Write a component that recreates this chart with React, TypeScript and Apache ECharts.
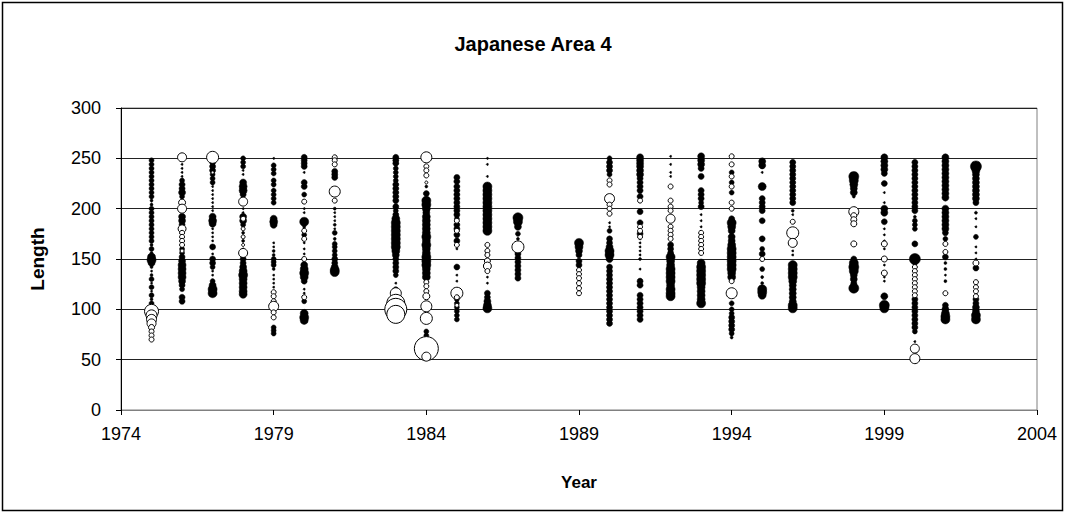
import React, { useEffect, useRef } from "react";
import * as echarts from "echarts";

// Each entry: [length, bubble size in px]
const f1975 = [[248,5],[244,5],[240,5],[236,5],[232,5],[228,5],[224,5],[220,5],[216,5],[212,5],[208,3],[204,3],[200,5],[196,5],[192,5],[188,5],[184,5],[180,5],[176,5],[172,5],[168,5],[164,3],[160,5],[156,3],[152,8],[149,9],[146,7],[142,3],[138,2],[134,3],[130,5],[126,2],[122,5],[118,2],[114,5],[110,3],[106,5],[102,3]];
const o1975 = [[98,14],[94,11],[90,10],[86,9],[82,6],[78,5],[74,5],[70,5]];
const f1976 = [[244,2],[240,2],[236,2],[232,2],[228,5],[224,6],[220,6],[216,7],[212,5],[192,7],[188,7],[184,6],[170,3],[160,5],[156,5],[152,6],[148,7],[144,8],[140,8],[136,8],[132,8],[128,7],[124,6],[120,5],[112,6],[108,6]];
const o1976 = [[251,9],[206,7],[200,9],[180,8],[176,5],[172,5],[168,5],[164,5],[158,4]];
const f1977 = [[246,6],[242,6],[238,6],[234,5],[230,5],[226,5],[222,2],[218,2],[214,2],[210,2],[206,2],[202,2],[198,2],[192,7],[188,8],[185,7],[180,2],[176,2],[172,2],[168,2],[162,6],[155,2],[150,6],[146,6],[142,5],[138,2],[134,2],[128,5],[124,7],[120,9],[116,9]];
const o1977 = [[251,12],[236,3]];
const f1978 = [[250,5],[246,5],[242,5],[238,2],[234,2],[226,7],[222,8],[218,8],[214,6],[200,2],[196,2],[192,7],[188,7],[184,5],[176,3],[168,3],[160,2],[150,6],[146,6],[142,7],[138,8],[134,9],[130,8],[126,8],[122,8],[118,8],[115,8]];
const o1978 = [[207,9],[190,5],[180,4],[172,4],[164,3],[156,9]];
const f1979 = [[250,2],[243,5],[239,5],[235,5],[228,5],[224,5],[218,5],[214,5],[210,5],[206,5],[190,7],[187,8],[184,7],[166,2],[162,2],[158,3],[154,3],[150,5],[147,5],[144,5],[140,3],[134,2],[130,2],[126,2],[122,2],[82,5],[79,5],[76,5]];
const o1979 = [[117,5],[113,5],[108,5],[103,10],[97,5],[92,5]];
const f1980 = [[251,6],[248,6],[245,6],[242,6],[236,2],[226,6],[222,6],[214,5],[200,2],[196,2],[187,9],[182,3],[174,5],[166,2],[160,2],[155,2],[144,7],[140,8],[136,9],[132,8],[128,6],[120,2],[116,2],[108,5],[96,8],[92,9],[89,8]];
const o1980 = [[207,5],[178,5],[170,5],[150,5],[112,5]];
const f1981 = [[237,6],[234,6],[231,6],[200,3],[196,2],[192,2],[188,2],[184,3],[180,2],[176,5],[170,3],[165,5],[162,5],[158,5],[154,5],[150,6],[146,6],[142,7],[139,9],[137,9]];
const o1981 = [[251,5],[248,5],[244,5],[217,11],[208,5]];
const f1983 = [[251,6],[248,6],[245,6],[240,5],[236,5],[232,5],[228,5],[224,6],[220,6],[216,6],[212,6],[208,6],[202,6],[198,5],[194,6],[190,8],[186,9],[182,9],[178,9],[174,9],[170,9],[166,9],[162,9],[158,8],[154,7],[150,6],[146,6],[142,6],[138,6],[134,5],[126,2],[120,5]];
const o1983 = [[116,11],[106,18],[100,22],[95,18]];
const f1984 = [[222,3],[215,6],[208,9],[204,9],[200,8],[196,7],[192,8],[188,8],[184,8],[180,8],[176,8],[172,9],[168,8],[164,9],[160,8],[156,8],[152,9],[148,9],[144,9],[140,8],[136,8],[132,8],[78,5],[74,5]];
const o1984 = [[251,11],[242,5],[238,5],[233,5],[226,3],[127,5],[123,5],[118,5],[113,7],[103,11],[91,12],[68,8],[61,24],[53,9]];
const f1985 = [[231,6],[227,6],[222,6],[218,6],[214,6],[210,6],[206,6],[202,6],[198,6],[194,6],[190,5],[184,6],[180,6],[174,6],[168,6],[160,2],[142,6],[134,2],[128,2],[110,5],[106,5],[102,5],[98,5],[94,5],[90,5]];
const o1985 = [[188,5],[178,5],[164,5],[116,12],[112,5],[104,4]];
const f1986 = [[250,2],[244,2],[232,2],[222,9],[218,9],[214,9],[210,9],[206,9],[202,9],[198,9],[194,9],[190,9],[186,9],[182,9],[178,9],[132,2],[126,2],[116,6],[112,6],[108,7],[104,8],[101,9]];
const o1986 = [[164,5],[158,5],[154,5],[148,6],[143,8],[138,5]];
const f1987 = [[191,10],[187,9],[182,7],[175,5],[170,3],[155,6],[151,6],[147,6],[143,6],[139,6],[135,6],[131,6]];
const o1987 = [[162,12]];
const f1989 = [[166,9],[162,8],[158,7],[154,6],[148,6],[144,6]];
const o1989 = [[139,5],[135,5],[131,5],[126,5],[121,5],[116,5]];
const f1990 = [[250,5],[246,6],[242,6],[238,6],[234,5],[186,2],[182,2],[178,5],[170,6],[166,6],[162,7],[158,9],[154,9],[150,7],[142,6],[138,6],[134,6],[130,6],[126,6],[122,6],[118,6],[114,6],[110,6],[106,6],[102,6],[98,6],[94,6],[90,6],[86,6]];
const o1990 = [[228,5],[224,5],[210,10],[204,5],[200,5],[195,5]];
const f1991 = [[251,7],[248,7],[245,7],[242,7],[238,7],[234,7],[230,6],[226,6],[222,6],[218,6],[212,6],[197,6],[186,6],[175,6],[170,2],[166,2],[162,2],[158,2],[154,2],[150,3],[140,2],[128,6],[124,6],[114,6],[110,6],[106,6],[102,6],[98,6],[94,6],[90,6]];
const o1991 = [[208,5],[182,5],[178,5],[172,5]];
const f1992 = [[252,2],[244,2],[236,2],[232,2],[164,6],[160,6],[156,6],[152,9],[148,8],[144,8],[140,9],[136,9],[132,9],[128,9],[124,8],[120,9],[116,9],[113,9]];
const o1992 = [[222,5],[208,5],[202,5],[198,5],[190,9],[182,5],[178,5],[174,5],[170,5]];
const f1993 = [[252,7],[248,7],[244,7],[240,6],[232,6],[218,6],[214,6],[210,6],[206,5],[202,6],[194,2],[188,2],[182,2],[146,8],[142,9],[138,9],[134,9],[130,9],[126,9],[122,8],[118,8],[114,8],[110,8],[106,9]];
const o1993 = [[176,5],[172,5],[168,5],[164,5],[160,5],[156,5]];
const f1994 = [[236,5],[226,5],[216,5],[190,6],[186,9],[182,8],[178,7],[172,7],[168,7],[164,8],[160,9],[156,9],[152,9],[148,9],[144,9],[140,9],[136,8],[132,8],[106,5],[100,5],[96,5],[92,6],[88,6],[84,6],[80,6],[76,5],[72,3]];
const o1994 = [[252,5],[244,5],[232,5],[222,5],[206,5],[200,5],[128,5],[116,11]];
const f1995 = [[247,7],[243,7],[236,2],[222,8],[210,6],[206,6],[202,6],[198,6],[188,6],[170,6],[160,5],[155,6],[140,5],[132,3],[126,3],[120,9],[117,9],[114,8]];
const o1995 = [[150,5]];
const f1996 = [[246,6],[242,6],[238,6],[234,6],[230,6],[226,6],[222,6],[218,6],[214,6],[210,6],[206,6],[198,3],[194,2],[158,2],[154,2],[144,9],[140,9],[136,9],[132,9],[128,8],[124,7],[120,7],[116,7],[112,7],[108,7],[104,9],[101,9]];
const o1996 = [[187,5],[176,12],[166,9]];
const f1998 = [[232,10],[228,9],[224,8],[220,7],[216,7],[212,3],[150,6],[146,9],[142,10],[138,9],[134,7],[130,7],[126,6],[121,10]];
const o1998 = [[197,10],[193,6],[189,6],[185,6],[165,6]];
const f1999 = [[251,7],[247,7],[243,7],[239,7],[235,6],[225,6],[216,2],[206,2],[200,7],[196,7],[187,6],[180,2],[174,2],[168,2],[160,2],[144,2],[132,2],[128,2],[113,7],[104,10],[101,9]];
const o1999 = [[165,6],[150,6],[136,6]];
const f2000 = [[246,6],[242,6],[238,6],[234,6],[230,6],[226,6],[222,6],[218,6],[214,6],[210,6],[206,6],[202,6],[198,6],[192,3],[188,5],[184,5],[180,5],[165,6],[150,11],[146,5],[110,6],[106,6],[102,6],[98,6],[94,6],[90,6],[86,6],[82,6],[78,5],[68,2]];
const o2000 = [[142,5],[138,5],[134,5],[130,5],[126,5],[122,5],[118,5],[114,5],[61,9],[51,10]];
const f2001 = [[251,7],[247,7],[243,7],[239,7],[235,7],[231,7],[227,7],[223,7],[219,7],[215,7],[211,7],[200,7],[196,7],[192,7],[188,7],[184,7],[180,7],[176,6],[170,5],[152,6],[146,3],[140,3],[134,2],[128,3],[104,6],[100,7],[96,8],[93,9],[90,9]];
const o2001 = [[165,5],[157,5],[116,5]];
const f2002 = [[242,11],[238,8],[234,7],[230,7],[226,7],[222,7],[218,7],[214,7],[210,7],[206,6],[196,3],[190,2],[182,2],[172,5],[162,2],[156,2],[150,2],[141,6],[110,6],[106,6],[102,7],[98,7],[94,9],[90,9]];
const o2002 = [[146,6],[127,5],[122,5],[118,5],[113,5]];

const years = [1975,1976,1977,1978,1979,1980,1981,1983,1984,1985,1986,1987,1989,1990,1991,1992,1993,1994,1995,1996,1998,1999,2000,2001,2002];
const filledByYear = [f1975,f1976,f1977,f1978,f1979,f1980,f1981,f1983,f1984,f1985,f1986,f1987,f1989,f1990,f1991,f1992,f1993,f1994,f1995,f1996,f1998,f1999,f2000,f2001,f2002];
const openByYear = [o1975,o1976,o1977,o1978,o1979,o1980,o1981,o1983,o1984,o1985,o1986,o1987,o1989,o1990,o1991,o1992,o1993,o1994,o1995,o1996,o1998,o1999,o2000,o2001,o2002];

const xTicks = { min: 1974, max: 2004, interval: 5 };
const yTicks = { min: 0, max: 300, interval: 50 };

const FONT = "'Liberation Sans', Arial, sans-serif";

export default function App() {
  const ref = useRef<HTMLDivElement>(null);
  useEffect(() => {
    if (!ref.current) return;
    const chart = echarts.init(ref.current, null, { renderer: "svg" });
    const filled: number[][] = [];
    const open: number[][] = [];
    years.forEach((yr, i) => {
      filledByYear[i].forEach(([len, s]) => filled.push([yr, len, s]));
      openByYear[i].forEach(([len, s]) => open.push([yr, len, s]));
    });
    chart.setOption({
      animation: false,
      backgroundColor: "#fff",
      title: {
        text: "Japanese Area 4",
        left: "center",
        top: 29,
        textStyle: { fontFamily: FONT, fontSize: 20, fontWeight: "bold", color: "#000" },
      },
      graphic: [
        {
          type: "rect",
          shape: { x: 2.5, y: 2.5, width: 1060, height: 508 },
          style: { fill: "none", stroke: "#000", lineWidth: 1.5 },
          silent: true,
        },
      ],
      grid: {
        left: 121,
        top: 108,
        width: 916,
        height: 302,
        show: true,
        borderColor: "#808080",
        borderWidth: 1,
      },
      xAxis: {
        type: "value",
        min: xTicks.min,
        max: xTicks.max,
        interval: xTicks.interval,
        name: "Year",
        nameLocation: "middle",
        nameGap: 64,
        nameTextStyle: { fontFamily: FONT, fontSize: 17, fontWeight: "bold", color: "#000" },
        axisLine: { show: true, onZero: false, lineStyle: { color: "#808080", width: 1 } },
        axisTick: { show: true, length: 5, inside: false, lineStyle: { color: "#000" } },
        axisLabel: {
          fontFamily: FONT,
          fontSize: 18,
          color: "#000",
          margin: 15,
          formatter: (v: number) => String(v),
        },
        splitLine: { show: false },
      },
      yAxis: {
        type: "value",
        min: yTicks.min,
        max: yTicks.max,
        interval: yTicks.interval,
        name: "Length",
        nameLocation: "middle",
        nameGap: 74,
        nameRotate: 90,
        nameTextStyle: { fontFamily: FONT, fontSize: 19, fontWeight: "bold", color: "#000" },
        axisLine: { show: true, lineStyle: { color: "#000", width: 1 } },
        axisTick: { show: true, length: 5, lineStyle: { color: "#000" } },
        axisLabel: { fontFamily: FONT, fontSize: 18, color: "#000", margin: 20 },
        splitLine: { show: true, lineStyle: { color: "#222", width: 1 } },
      },
      series: [
        {
          type: "scatter",
          data: filled,
          symbol: "circle",
          symbolSize: (v: number[]) => v[2],
          itemStyle: { color: "#000", borderColor: "#000", borderWidth: 0.5, opacity: 1 },
          silent: true,
          z: 2,
        },
        {
          type: "scatter",
          data: open,
          symbol: "circle",
          symbolSize: (v: number[]) => v[2],
          itemStyle: { color: "#fff", borderColor: "#000", borderWidth: 1, opacity: 1 },
          silent: true,
          z: 3,
        },
      ],
    });
    return () => chart.dispose();
  }, []);
  return (
    <div
      ref={ref}
      style={{ position: "fixed", left: 0, top: 0, width: 1066, height: 514 }}
    />
  );
}
